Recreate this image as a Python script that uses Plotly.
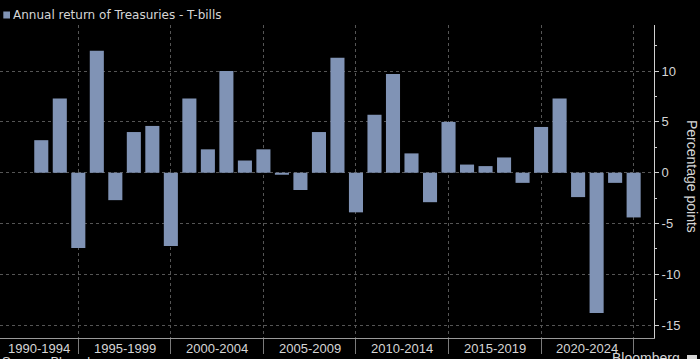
import plotly.graph_objects as go

# ---- data ----
years = list(range(1992, 2025))
excess_return = [3.2, 7.3, -7.4, 12.0, -2.7, 4.0, 4.6, -7.2, 7.3, 2.3,
                 10.0, 1.2, 2.3, -0.2, -1.7, 4.0, 11.3, -3.9, 5.7, 9.7,
                 1.9, -2.9, 5.0, 0.8, 0.65, 1.5, -1.0, 4.5, 7.3, -2.4,
                 -13.8, -1.0, -4.4]
group_bounds = [1994, 1999, 2004, 2009, 2014, 2019, 2024]
group_labels = ["1990-1994", "1995-1999", "2000-2004", "2005-2009",
                "2010-2014", "2015-2019", "2020-2024"]
group_label_pos = [1991.9, 1996.5, 2001.5, 2006.5, 2011.5, 2016.5, 2021.5]
y_ticks = [-15, -10, -5, 0, 5, 10]
y_tick_text = ["-15", "-10", "-5", "0", "5", "10"]
series_name = "Annual return of Treasuries - T-bills"

BAR = "#8093b5"
GRID = "#555555"
TXT = "#d6d6d6"
FONT = "Liberation Sans, Arial, sans-serif"

fig = go.Figure()
fig.add_trace(go.Bar(x=years, y=excess_return, marker=dict(color=BAR, line=dict(width=0)),
                     width=0.76, name=series_name, showlegend=False, hoverinfo="skip"))

# plot area: x 0..654 px, y 25..338 px
fig.update_layout(
    width=700, height=359,
    margin=dict(l=0, r=46, t=25, b=21),
    paper_bgcolor="black", plot_bgcolor="black",
    font=dict(family=FONT, color=TXT, size=13),
    xaxis=dict(range=[1989.77, 2025.10], tickvals=group_bounds, showticklabels=False,
               ticks="outside", ticklen=15, tickcolor="#7a7a7a", tickwidth=1,
               showgrid=True, gridcolor=GRID, griddash="dot", gridwidth=1,
               showline=True, linecolor="#9a9a9a", linewidth=1, zeroline=False),
    yaxis=dict(side="right", range=[-16.26, 14.53], tickvals=y_ticks, ticktext=y_tick_text,
               ticks="outside", ticklen=4, tickcolor="#cfcfcf", tickwidth=1,
               tickfont=dict(size=13, color=TXT),
               showline=True, linecolor="#cfcfcf", linewidth=1,
               showgrid=True, gridcolor=GRID, griddash="dot", gridwidth=1, zeroline=False,
               minor=dict(tick0=0, dtick=2.5, ticks="outside", ticklen=2, tickcolor="#cfcfcf",
                          showgrid=False)),
    bargap=0.24,
)

# group labels under the date axis
for lab, pos in zip(group_labels, group_label_pos):
    fig.add_annotation(x=pos, y=0, xref="x", yref="paper", yanchor="top", yshift=-1,
                       text=lab, showarrow=False, font=dict(size=13, color=TXT))

# legend swatch + text
fig.add_shape(type="rect", xref="paper", yref="paper",
              x0=3.3 / 654, x1=10 / 654, y0=(338 - 18.5) / 313, y1=(338 - 11.5) / 313,
              fillcolor=BAR, line=dict(width=0))
fig.add_annotation(x=10.5 / 654, y=(338 - 15) / 313, xref="paper", yref="paper",
                   xanchor="left", yanchor="middle", text=series_name, showarrow=False,
                   font=dict(size=12, color=TXT, family="DejaVu Sans, Verdana, sans-serif"))

# y-axis title (reads top to bottom)
fig.add_annotation(x=692 / 654, y=(338 - 176) / 313, xref="paper", yref="paper",
                   xanchor="center", yanchor="middle", text="Percentage points",
                   textangle=90, showarrow=False, font=dict(size=14, color=TXT))

# footer (cut off at bottom edge)
fig.add_annotation(x=0, y=(338 - 352) / 313, xref="paper", yref="paper",
                   xanchor="left", yanchor="top", text="Source: Bloomberg", showarrow=False,
                   font=dict(size=13, color=TXT))
fig.add_annotation(x=610 / 654, y=(338 - 348) / 313, xref="paper", yref="paper",
                   xanchor="left", yanchor="top", text="Bloomberg", showarrow=False,
                   font=dict(size=14, color=TXT))
fig.add_shape(type="rect", xref="paper", yref="paper",
              x0=687 / 654, x1=697 / 654, y0=(338 - 365) / 313, y1=(338 - 355) / 313,
              fillcolor=TXT, line=dict(width=0))

fig.write_html("out.html",
               config={"displayModeBar": False},
               post_script="document.body.style.margin='0';"
                           "document.body.style.background='black';"
                           "document.body.style.overflow='hidden';")
